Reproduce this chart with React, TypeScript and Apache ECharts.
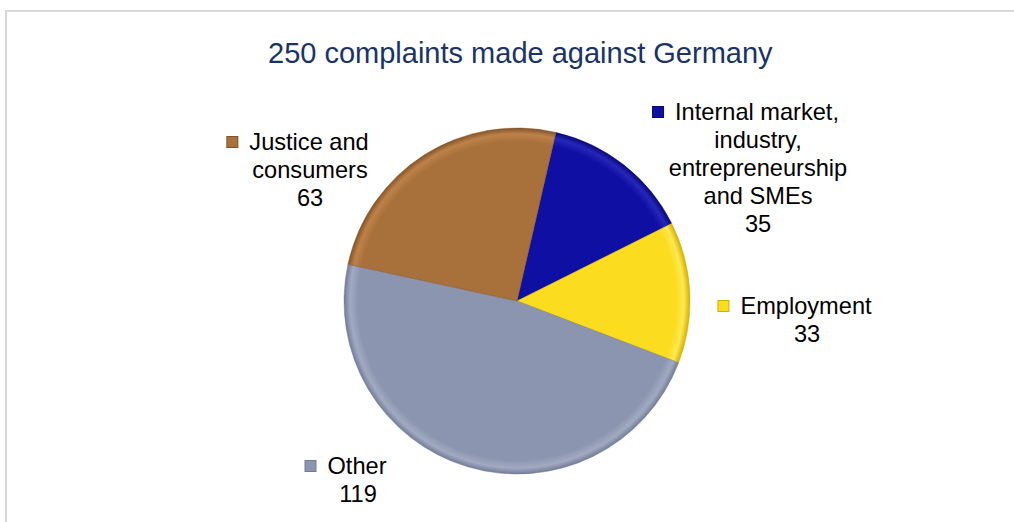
import React, { useEffect, useRef } from "react";
import * as echarts from "echarts";

const titleText = "250 complaints made against Germany";
const categories = [
  "Internal market,\nindustry,\nentrepreneurship\nand SMEs",
  "Employment",
  "Other",
  "Justice and\nconsumers",
];
const values = [35, 33, 119, 63];
const baseColors = ["#0f0fa3", "#fbdc1f", "#8c95b0", "#a8703b"];
const rimColors = ["#2626bb", "#ffe852", "#a2aac2", "#bd8249"];
const edgeColors = ["#08087a", "#d2b000", "#737c97", "#845429"];
// label block centres (layout only)
const labelPos = [
  [758, 168],
  [807, 320],
  [358, 480],
  [310, 170],
];

const FONT = "'Liberation Sans', Arial, sans-serif";

export default function App() {
  const ref = useRef<HTMLDivElement>(null);
  useEffect(() => {
    if (!ref.current) return;
    const chart = echarts.init(ref.current, undefined, { renderer: "svg" });
    const cx = 517;
    const cy = 301;
    const r = 173;
    const data = values.map((v, i) => ({
      value: v,
      name: categories[i],
      itemStyle: {
        color: {
          type: "radial",
          x: cx,
          y: cy,
          r: r,
          global: true,
          colorStops: [
            { offset: 0, color: baseColors[i] },
            { offset: 0.92, color: baseColors[i] },
            { offset: 0.965, color: rimColors[i] },
            { offset: 1, color: edgeColors[i] },
          ],
        },
        borderColor: edgeColors[i],
        borderWidth: 0.5,
      },
      label: {
        rich: {
          m: {
            width: 10,
            height: 10,
            backgroundColor: baseColors[i],
            borderColor: edgeColors[i],
            borderWidth: 1,
          },
          g: { width: 12 },
          sp: { width: 24 },
          t: { fontSize: 23.6, lineHeight: 28, color: "#000", fontFamily: FONT },
        },
      },
    }));
    chart.setOption({
      animation: false,
      title: {
        text: titleText,
        left: 263,
        top: 33,
        textStyle: {
          fontSize: 29,
          fontWeight: "normal",
          color: "#1a3366",
          fontFamily: FONT,
        },
      },
      graphic: [
        {
          type: "rect",
          shape: { x: 6, y: 11, width: 1030, height: 540 },
          style: { fill: "none", stroke: "#d9d9d9", lineWidth: 2 },
          silent: true,
        },
      ],
      series: [
        {
          type: "pie",
          center: [cx, cy],
          radius: r,
          startAngle: 77,
          clockwise: true,
          data: data,
          labelLine: { show: false },
          label: {
            show: true,
            position: "outside",
            fontSize: 23.6,
            lineHeight: 28,
            color: "#000",
            fontFamily: FONT,
            formatter: (p: any) => {
              const lines = String(p.name).split("\n");
              const out = lines.map((ln, k) =>
                k === 0 ? `{m|}{g|}{t|${ln}}{sp|}` : `{t|${ln}}`
              );
              out.push(`{t|${p.value}}`);
              return out.join("\n");
            },
          },
          labelLayout: (p: any) => {
            const pos = labelPos[p.dataIndex];
            return { x: pos[0], y: pos[1], align: "center", verticalAlign: "middle" };
          },
        },
      ],
    });
    return () => chart.dispose();
  }, []);
  return (
    <div
      ref={ref}
      style={{ position: "absolute", left: 0, top: 0, width: 1014, height: 522, background: "#fff" }}
    />
  );
}
